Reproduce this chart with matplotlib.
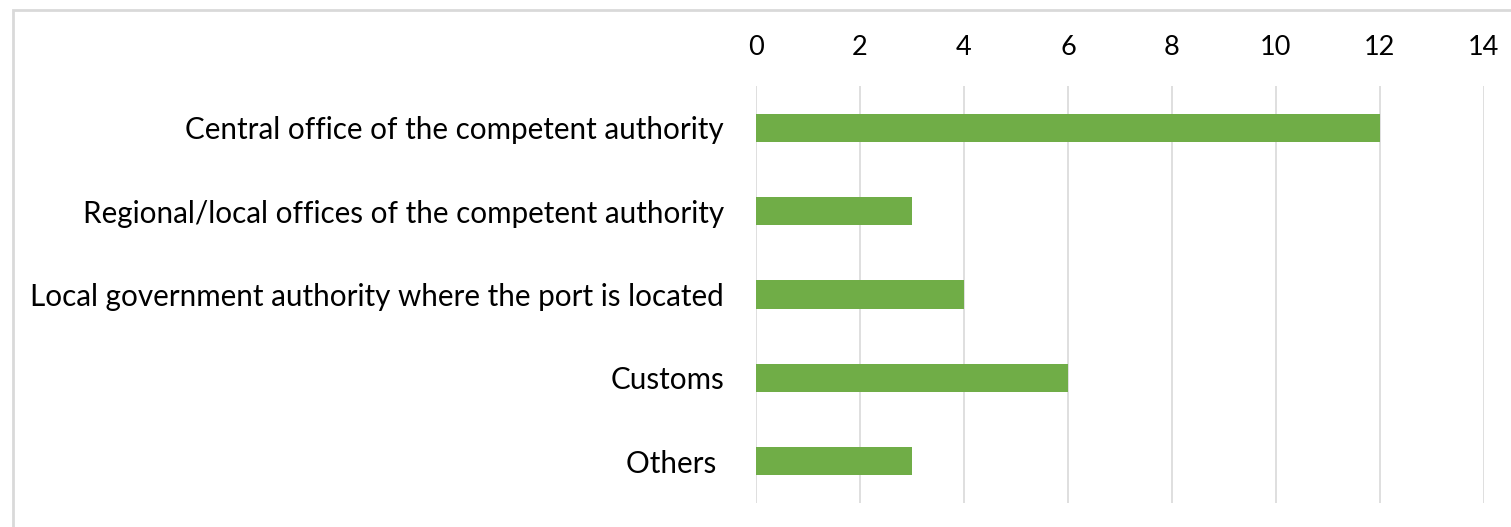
import matplotlib.pyplot as plt
from matplotlib.patches import Rectangle

categories = [
    'Central office of the competent authority',
    'Regional/local offices of the competent authority',
    'Local government authority where the port is located',
    'Customs',
    'Others ',
]
values = [12, 3, 4, 6, 3]
ticks = [0, 2, 4, 6, 8, 10, 12, 14]

plt.rcParams['font.family'] = ['Lato', 'DejaVu Sans']

fig = plt.figure(figsize=(15.11, 5.27), dpi=100)
ax = fig.add_axes([0.5003, 0.0455, 0.4818, 0.7913])

# outer chart border (cut off at right and bottom like the source)
fig.patches.append(Rectangle((13 / 1511, -0.1), 1.2, 1 - 10 / 527 + 0.1,
                             transform=fig.transFigure, fill=False,
                             edgecolor='#D9D9D9', linewidth=2))

ax.barh(range(len(categories)), values, height=0.34, color='#70AD47', zorder=3)
ax.set_ylim(len(categories) - 0.5, -0.5)
ax.set_xlim(0, 14)
ax.set_xticks(ticks)
ax.set_yticks(range(len(categories)))
ax.set_yticklabels(categories)
ax.xaxis.tick_top()
ax.grid(axis='x', color='#D9D9D9', linewidth=1.2, zorder=0)
for s in ax.spines.values():
    s.set_visible(False)
ax.tick_params(axis='x', length=0, pad=18.5, labelsize=19.5, colors='#000000')
ax.tick_params(axis='y', length=0, pad=23, labelsize=21.3, colors='#000000')

fig.savefig('out.png', dpi=100)
